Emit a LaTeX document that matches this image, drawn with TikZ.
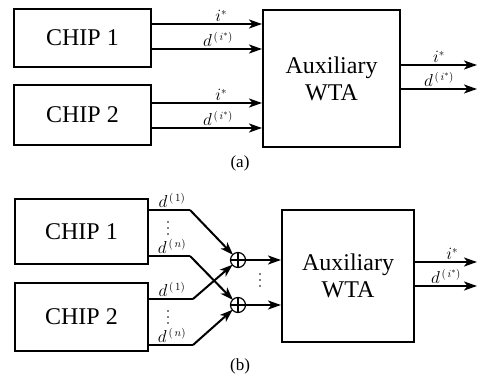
\documentclass[tikz,border=0pt]{standalone}
\usepackage{fontspec}
\setmainfont{Liberation Serif}
\usetikzlibrary{arrows.meta}
\begin{document}
\begin{tikzpicture}[x=1pt,y=-1pt,
  blk/.style={draw,line width=2pt,inner sep=0pt,font=\fontsize{24}{27}\selectfont,align=center},
  arr/.style={line width=2pt,-{Stealth[length=13pt,width=9pt,inset=3.5pt]}},
  ln/.style={line width=2pt},
  lab/.style={font=\fontsize{16}{18}\selectfont,inner sep=0pt,anchor=south},
  labb/.style={font=\fontsize{16}{18}\selectfont,inner sep=0pt,anchor=south},
  sumc/.style={draw,circle,line width=1.2pt,minimum size=15pt,inner sep=0pt},
  subcap/.style={font=\fontsize{17}{19}\selectfont}
]
\useasboundingbox (0,0) rectangle (480,379);
% ---------- (a) ----------
\node[blk,minimum width=137pt,minimum height=58pt] (c1a) at (82.5,38) {CHIP 1};
\node[blk,minimum width=137pt,minimum height=60pt] (c2a) at (82.5,115) {CHIP 2};
\node[blk,minimum width=137pt,minimum height=137pt] (wa) at (331.5,78.5) {Auxiliary\\WTA};
\coordinate (oa1) at (477,65);
\coordinate (oa2) at (477,89);
\draw[arr] (c1a.east |- 0,24) -- node[lab,pos=0.63,yshift=1pt]{$i^*$} (wa.west |- 0,24);
\draw[arr] (c1a.east |- 0,49) -- node[lab,pos=0.6,yshift=1pt]{$d^{\,(\,i^*)}$} (wa.west |- 0,49);
\draw[arr] (c2a.east |- 0,103) -- node[lab,pos=0.63,yshift=1pt]{$i^*$} (wa.west |- 0,103);
\draw[arr] (c2a.east |- 0,128) -- node[lab,pos=0.6,yshift=1pt]{$d^{\,(\,i^*)}$} (wa.west |- 0,128);
\draw[arr] (wa.east |- oa1) -- node[lab,pos=0.5,yshift=1pt]{$i^*$} (oa1);
\draw[arr] (wa.east |- oa2) -- node[lab,pos=0.5,yshift=1pt]{$d^{\,(\,i^*)}$} (oa2);
\node[subcap] (la) at (240,163) {(a)};
% ---------- (b) ----------
\node[blk,minimum width=133pt,minimum height=65pt] (c1b) at (81.5,231.5) {CHIP 1};
\node[blk,minimum width=133pt,minimum height=68pt] (c2b) at (81.5,317) {CHIP 2};
\node[blk,minimum width=132pt,minimum height=132pt] (wb) at (348,276) {Auxiliary\\WTA};
\node[sumc] (s1) at (238,260) {};
\node[sumc] (s2) at (238,305) {};
\draw[line width=1.2pt] (s1.north) -- (s1.south) (s1.west) -- (s1.east);
\draw[line width=1.2pt] (s2.north) -- (s2.south) (s2.west) -- (s2.east);
\coordinate (e11) at (190,210);
\coordinate (e1n) at (190,256);
\coordinate (e21) at (193,299);
\coordinate (e2n) at (193,345);
\draw[ln] (c1b.east |- e11) -- (e11);
\draw[ln] (c1b.east |- e1n) -- (e1n);
\draw[ln] (c2b.east |- e21) -- (e21);
\draw[ln] (c2b.east |- e2n) -- (e2n);
\draw[arr,shorten >=-1pt] (e11) -- (s1);
\draw[arr,shorten >=-1pt] (e1n) -- (s2);
\draw[arr,shorten >=-1pt] (e21) -- (s1);
\draw[arr,shorten >=-1pt] (e2n) -- (s2);
\node[labb] (d11) at (172,208) {$d^{\,(\,1)}$};
\node[labb] (d1n) at (172,254) {$d^{\,(\,n)}$};
\node[labb] (d21) at (172,297) {$d^{\,(\,1)}$};
\node[labb] (d2n) at (172,343) {$d^{\,(\,n)}$};
\foreach \yy in {222,228,234} \fill (168,\yy) circle (0.8pt);
\foreach \yy in {311,317,323} \fill (168,\yy) circle (0.8pt);
\foreach \yy in {274,280,286} \fill (260,\yy) circle (0.8pt);
\draw[arr] (s1) -- (wb.west |- s1);
\draw[arr] (s2) -- (wb.west |- s2);
\coordinate (ob1) at (477,262);
\coordinate (ob2) at (477,286);
\draw[arr] (wb.east |- ob1) -- node[lab,pos=0.6,yshift=1pt]{$i^*$} (ob1);
\draw[arr] (wb.east |- ob2) -- node[lab,pos=0.5,yshift=1pt]{$d^{\,(\,i^*)}$} (ob2);
\node[subcap] (lb) at (240,366) {(b)};
\end{tikzpicture}
\end{document}
